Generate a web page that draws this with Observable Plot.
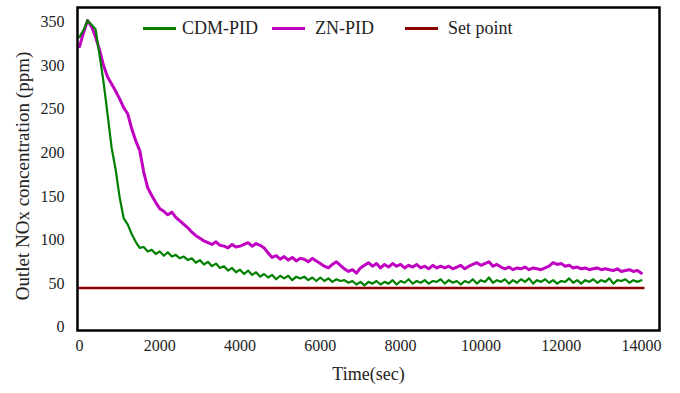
<!DOCTYPE html>
<html><head><meta charset="utf-8">
<script src="https://cdn.jsdelivr.net/npm/d3@7"></script>
<script src="https://cdn.jsdelivr.net/npm/@observablehq/plot@0.6"></script>
<style>
body{margin:0;background:#fff}
#chart{position:relative;width:680px;height:393px;font-family:"Liberation Serif",serif;color:#222}
.leg{position:absolute;font-size:18px;line-height:18px;white-space:nowrap}
.sw{position:absolute;height:3px}
</style>
</head><body><div id="chart"></div>
<script>
// sample times (s), every 100 s
const time = d3.range(0, 14001, 100);

const cdmPid = [
  333, 341, 352, 347, 342,
  312, 281, 244, 206, 181, 149,
  125, 118, 107, 98, 91,
  92, 87, 89, 84, 87,
  82, 86, 81, 83, 79,
  81, 77, 79, 74, 77,
  72, 75, 70, 73, 68,
  70, 65, 68, 63, 66,
  61, 65, 60, 63, 58,
  61, 57, 60, 55, 59,
  56, 59, 54, 58, 56,
  58, 54, 57, 53, 57,
  53, 56, 52, 55, 53,
  54, 51, 53, 49, 52,
  48, 52, 50, 53, 49,
  52, 50, 54, 49, 53,
  51, 55, 50, 53, 51,
  54, 50, 53, 52, 55,
  50, 54, 51, 53, 49,
  53, 51, 55, 50, 54,
  52, 57, 51, 54, 52,
  55, 50, 54, 51, 55,
  52, 56, 50, 54, 52,
  55, 51, 54, 50, 53,
  52, 56, 51, 54, 50,
  54, 52, 55, 51, 54,
  52, 56, 50, 54, 53,
  55, 51, 54, 52, 54
];

const znPid = [
  322, 338, 352, 345, 333,
  318, 300, 287, 279, 271, 262,
  252, 245, 228, 214, 203,
  178, 160, 151, 143, 136,
  133, 129, 132, 126, 122,
  118, 114, 109, 105, 102,
  99, 97, 95, 98, 94,
  93, 91, 95, 92, 93,
  95, 97, 93, 96, 94,
  91, 85, 80, 82, 78,
  81, 77, 80, 76, 79,
  78, 75, 79, 76, 73,
  70, 68, 72, 75, 71,
  67, 64, 66, 62, 68,
  71, 74, 70, 73, 68,
  72, 69, 73, 70, 72,
  68, 71, 69, 72, 68,
  70, 67, 71, 68, 70,
  68, 70, 67, 69, 71,
  67, 70, 72, 74, 71,
  73, 75, 70, 72, 69,
  67, 69, 66, 68, 67,
  69, 66, 68, 67, 66,
  68, 70, 74, 72, 73,
  70, 71, 68, 69, 67,
  68, 66, 67, 68, 66,
  67, 66, 65, 67, 64,
  65, 66, 64, 65, 62
];

const setPointTime = [0, 14050];
const setPointValue = [45, 45];

const xTicks = [0, 2000, 4000, 6000, 8000, 10000, 12000, 14000];
const yTicks = [0, 50, 100, 150, 200, 250, 300, 350];

const seriesNames = ["CDM-PID", "ZN-PID", "Set point"];
const seriesColors = ["#008000", "#C000C0", "#8B0000"];

const xTitle = "Time(sec)";
const yTitle = "Outlet NOx concentration (ppm)";

const cdmData = time.map((t, i) => ({t, v: cdmPid[i]}));
const znData = time.map((t, i) => ({t, v: znPid[i]}));
const spData = setPointTime.map((t, i) => ({t, v: setPointValue[i]}));

const chart = Plot.plot({
  width: 680, height: 393,
  marginLeft: 77, marginRight: 21, marginTop: 7, marginBottom: 63,
  style: {fontFamily: "Liberation Serif", fontSize: "16px", color: "#222", background: "white"},
  x: {domain: [-50, 14450]},
  y: {domain: [-3.8, 366.9]},
  marks: [
    Plot.axisX({ticks: xTicks, tickSize: 0, tickPadding: 9, label: null, tickFormat: d => String(d), fontSize: 16}),
    Plot.axisY({ticks: yTicks, tickSize: 0, tickPadding: 13, label: null, fontSize: 16}),
    Plot.lineY(spData, {x: "t", y: "v", stroke: seriesColors[2], strokeWidth: 2.5}),
    Plot.lineY(znData, {x: "t", y: "v", stroke: seriesColors[1], strokeWidth: 3}),
    Plot.lineY(cdmData, {x: "t", y: "v", stroke: seriesColors[0], strokeWidth: 2.2}),
    Plot.frame({stroke: "black", strokeWidth: 2.5}),
    Plot.text([xTitle], {frameAnchor: "bottom", dy: 49, fontSize: 18, fill: "#222"}),
    Plot.text([yTitle], {frameAnchor: "left", textAnchor: "middle", dx: -55, dy: 7, rotate: -90, fontSize: 19, fill: "#222"})
  ]
});
const root = document.getElementById("chart");
root.appendChild(chart);

// legend
const legPos = [{sw: 143, tx: 182}, {sw: 272, tx: 315}, {sw: 405, tx: 448}];
seriesNames.forEach((name, i) => {
  const sw = document.createElement("div");
  sw.className = "sw";
  sw.style.left = legPos[i].sw + "px";
  sw.style.top = "27px";
  sw.style.width = "33px";
  sw.style.background = seriesColors[i];
  root.appendChild(sw);
  const tx = document.createElement("div");
  tx.className = "leg";
  tx.style.left = legPos[i].tx + "px";
  tx.style.top = "19px";
  tx.textContent = name;
  root.appendChild(tx);
});
</script>
</body></html>
